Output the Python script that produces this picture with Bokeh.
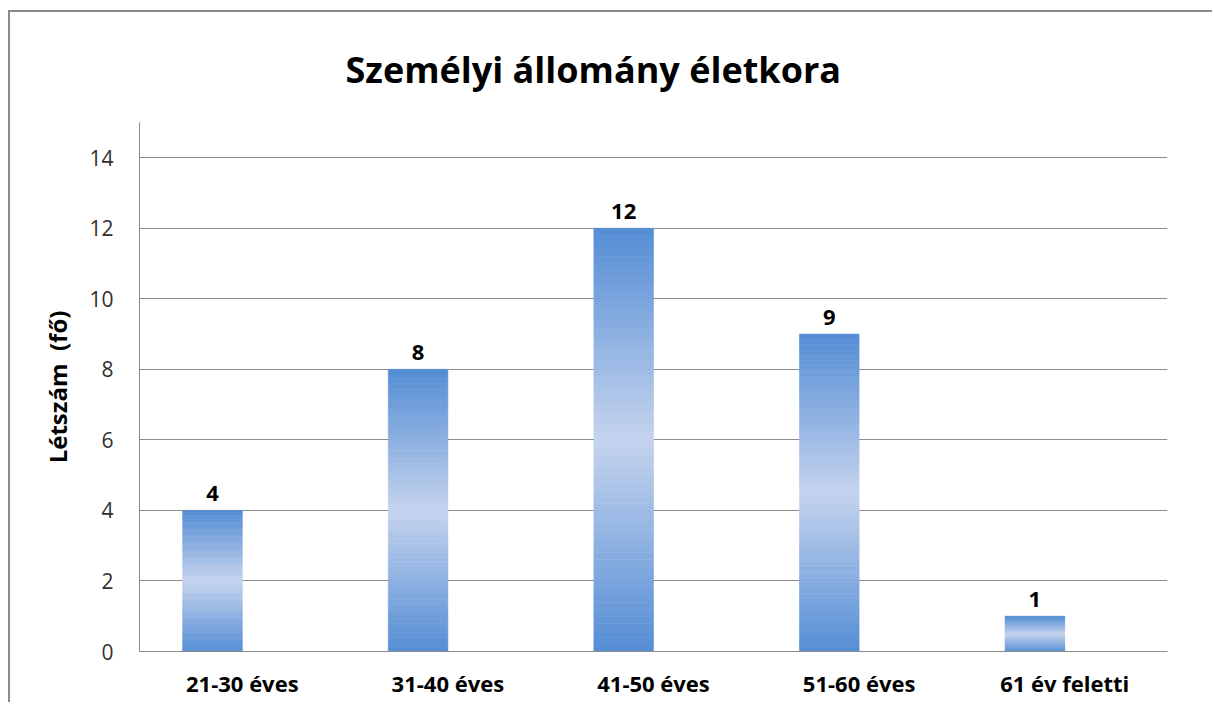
from bokeh.plotting import figure
from bokeh.models import ColumnDataSource, FixedTicker, Range1d, FactorRange
from bokeh.transform import dodge
from bokeh.core.properties import value
from bokeh.embed import file_html
from bokeh.resources import INLINE

# ---- data ----
categories = ["21-30 éves", "31-40 éves", "41-50 éves", "51-60 éves", "61 év feletti"]
counts = [4, 8, 12, 9, 1]
y_ticks = [0, 2, 4, 6, 8, 10, 12, 14]
title_text = "Személyi állomány életkora"
y_label = "Létszám  (fő)"

FONT = "Open Sans"
DARK = (84, 141, 212)
LIGHT = (197, 211, 238)
BAR_W = 0.29
N_STRIPS = 60

p = figure(
    x_range=FactorRange(*categories, range_padding=0),
    y_range=Range1d(0, 15),
    width=1204, height=692,
    output_backend="svg", toolbar_location=None,
    min_border_left=129, min_border_right=47,
    min_border_top=110, min_border_bottom=53,
)
p.styles = {"margin-left": "8px", "margin-top": "10px",
            "border-left": "2px solid #8c8c8c", "border-top": "2px solid #8c8c8c"}
p.outline_line_color = None
p.background_fill_color = "white"
p.border_fill_color = "white"

# gradient bars drawn as stacked strips
xs, bottoms, tops, colors = [], [], [], []
for cat, v in zip(categories, counts):
    for i in range(N_STRIPS):
        t0 = i / N_STRIPS
        t1 = (i + 1) / N_STRIPS
        tm = (t0 + t1) / 2
        s = 1 - abs(2 * tm - 1)
        c = tuple(int(round(d + (l - d) * s)) for d, l in zip(DARK, LIGHT))
        xs.append(cat)
        bottoms.append(v * t0)
        tops.append(v * t1)
        colors.append("#%02x%02x%02x" % c)
strip_src = ColumnDataSource(dict(x=xs, bottom=bottoms, top=tops, color=colors))
p.vbar(x=dodge("x", -BAR_W / 2, range=p.x_range), width=BAR_W, bottom="bottom", top="top",
       fill_color="color", line_color="color", line_width=0.6, source=strip_src)

# value labels
lab_src = ColumnDataSource(dict(x=categories, y=counts, t=[str(c) for c in counts]))
p.text(x=dodge("x", -BAR_W / 2, range=p.x_range), y="y", text="t", source=lab_src,
       text_align="center", text_baseline="bottom", y_offset=-9,
       text_font=value(FONT), text_font_style="bold", text_font_size="22px",
       text_color="black")

# title
p.title.text = title_text
p.title.align = "left"
p.title.offset = 206
p.title.text_font = FONT
p.title.text_font_style = "bold"
p.title.text_font_size = "36px"
p.title.text_color = "black"
p.title.standoff = 58

# y axis
p.yaxis.ticker = FixedTicker(ticks=y_ticks)
p.yaxis.axis_label = y_label.replace("  ", "\u00a0 ")
p.yaxis.axis_label_text_font = FONT
p.yaxis.axis_label_text_font_style = "bold"
p.yaxis.axis_label_text_font_size = "24px"
p.yaxis.axis_label_text_color = "black"
p.yaxis.axis_label_standoff = 12
p.yaxis.major_label_text_font = FONT
p.yaxis.major_label_text_font_size = "21px"
p.yaxis.major_label_text_color = "#303030"
p.yaxis.major_label_standoff = 26
p.yaxis.major_tick_in = 0
p.yaxis.major_tick_out = 0
p.yaxis.minor_tick_in = 0
p.yaxis.minor_tick_out = 0
p.yaxis.axis_line_color = "#8c8c8c"

# x axis
p.xaxis.major_label_text_font = FONT
p.xaxis.major_label_text_font_style = "bold"
p.xaxis.major_label_text_font_size = "22px"
p.xaxis.major_label_text_color = "black"
p.xaxis.major_label_standoff = 16
p.xaxis.major_tick_in = 0
p.xaxis.major_tick_out = 0
p.xaxis.axis_line_color = "#8c8c8c"

p.xgrid.grid_line_color = None
p.ygrid.grid_line_color = "#8c8c8c"
p.ygrid.grid_line_width = 1

open("out.html", "w").write(file_html(p, INLINE))
